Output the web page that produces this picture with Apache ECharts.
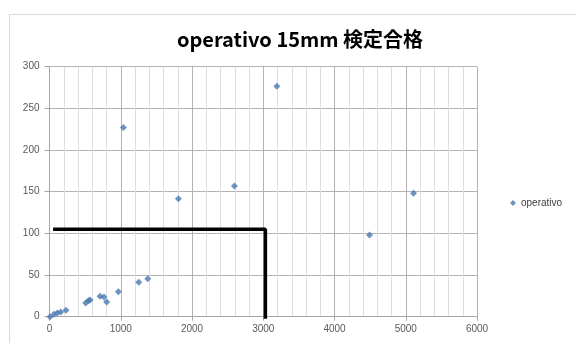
<!DOCTYPE html>
<html>
<head>
<meta charset="utf-8">
<script src="https://cdn.jsdelivr.net/npm/echarts@6/dist/echarts.min.js"></script>
<style>
  html, body { margin: 0; padding: 0; background: #fff; }
  #wrap { position: relative; width: 576px; height: 343px; overflow: hidden; }
  #frame { position: absolute; left: 9px; top: 14px; width: 620px; height: 400px; border: 1px solid #d9d9d9; }
  #chart { position: absolute; left: 0; top: 0; width: 576px; height: 343px; }
</style>
</head>
<body>
<div id="wrap">
  <div id="frame"></div>
  <div id="chart"></div>
</div>
<script>
// Measurements: x = operating count, y = value
const seriesName = 'operativo';
const xValues = [7, 63, 110, 157, 232, 508, 545, 569, 710, 765, 803, 966, 1253, 1379, 1037, 1809, 2596, 3191, 4492, 5110];
const yValues = [0, 3, 4.4, 5.6, 7.6, 16.4, 19, 20, 24.5, 23.5, 17.6, 30, 41.3, 45.6, 227, 141.6, 156.8, 276.5, 98, 148];

// Threshold guide drawn in black
const guideX = [50, 3030, 3030];
const guideY = [105, 105, -2.5];

const xTicks = [0, 1000, 2000, 3000, 4000, 5000, 6000];
const yTicks = [0, 50, 100, 150, 200, 250, 300];

const points = xValues.map((x, i) => [x, yValues[i]]);
const guide = guideX.map((x, i) => [x, guideY[i]]);

const chart = echarts.init(document.getElementById('chart'), null, { renderer: 'canvas' });
const labelFont = { color: '#595959', fontSize: 10, fontFamily: 'Liberation Sans, Arial, sans-serif' };

chart.setOption({
  animation: false,
  title: {
    text: 'operativo 15mm 検定合格',
    left: 295,
    top: 24,
    textAlign: 'center',
    textStyle: { fontSize: 20, fontWeight: 'bold', color: '#000', fontFamily: 'Noto Sans CJK JP, sans-serif' }
  },
  legend: {
    data: [{ name: seriesName, icon: 'diamond' }],
    left: 505,
    top: 193,
    itemWidth: 6,
    itemHeight: 6,
    itemGap: 4,
    textStyle: { color: '#404040', fontSize: 10, fontFamily: 'Liberation Sans, Arial, sans-serif' }
  },
  grid: { left: 49.5, right: 99, top: 66.7, bottom: 26.3, containLabel: false },
  xAxis: {
    type: 'value',
    min: xTicks[0],
    max: xTicks[xTicks.length - 1],
    interval: 1000,
    axisLine: { show: true, lineStyle: { color: '#a6a6a6' } },
    axisTick: { show: true, length: 4, lineStyle: { color: '#a6a6a6' } },
    axisLabel: Object.assign({ margin: 8, formatter: v => String(v) }, labelFont),
    splitLine: { show: true, lineStyle: { color: '#b3b3b3', width: 1 } },
    minorTick: { show: false, splitNumber: 5 },
    minorSplitLine: { show: true, lineStyle: { color: '#dedede', width: 1 } }
  },
  yAxis: {
    type: 'value',
    min: yTicks[0],
    max: yTicks[yTicks.length - 1],
    interval: 50,
    axisLine: { show: true, lineStyle: { color: '#a6a6a6' } },
    axisTick: { show: true, length: 5, lineStyle: { color: '#a6a6a6' } },
    axisLabel: Object.assign({ margin: 10 }, labelFont),
    splitLine: { show: true, lineStyle: { color: '#b3b3b3', width: 1 } }
  },
  series: [
    {
      name: seriesName,
      type: 'scatter',
      symbol: 'diamond',
      symbolSize: 7,
      itemStyle: { color: '#4a78b0' },
      data: points,
      z: 3
    },
    {
      name: 'guide',
      type: 'line',
      data: guide,
      symbol: 'none',
      clip: false,
      silent: true,
      lineStyle: { color: '#000', width: 3.5 },
      z: 4
    }
  ]
});
</script>
</body>
</html>
